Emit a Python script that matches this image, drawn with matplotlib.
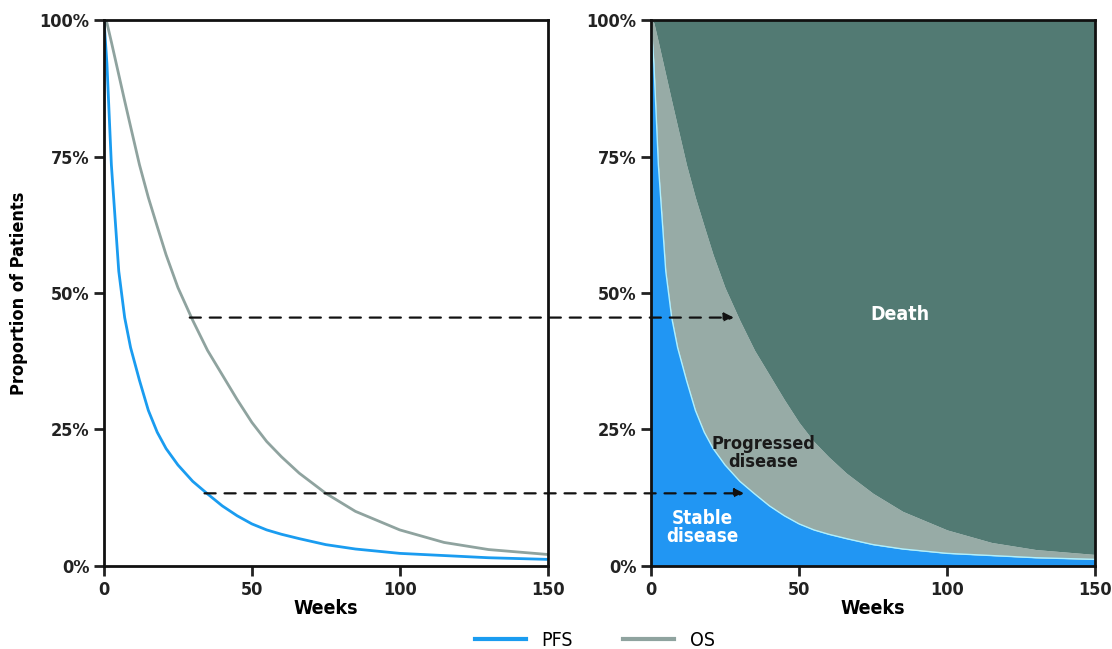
import matplotlib
matplotlib.use('Agg')
import matplotlib.pyplot as plt
from matplotlib.patches import ConnectionPatch
from matplotlib.lines import Line2D

plt.rcParams['font.family'] = ['DejaVu Sans Condensed', 'Liberation Sans Narrow', 'DejaVu Sans']
plt.rcParams['font.stretch'] = 'condensed'

# weeks and % of patients
weeks = [0, 1, 2.5, 5, 7, 9, 12, 15, 18, 21, 25, 30, 35, 40, 45, 50, 55, 60, 66, 75, 85, 100, 115, 130, 150]
pfs_pct = [100, 92, 73.5, 54, 45.5, 40, 34, 28.5, 24.5, 21.5, 18.5, 15.5, 13.2, 11, 9.2, 7.7, 6.6, 5.8, 5.0,
           3.9, 3.1, 2.3, 1.9, 1.5, 1.2]
os_pct = [100, 99.5, 96, 90, 85.2, 80.5, 73.5, 67.5, 62.2, 57, 51, 45, 39.5, 35, 30.5, 26.3, 22.8, 20, 17,
          13.3, 10, 6.6, 4.3, 3, 2.1]

x_ticks = [0, 50, 100, 150]
y_ticks = [0, 25, 50, 75, 100]
y_ticklabels = ['0%', '25%', '50%', '75%', '100%']

# dashed arrows: (start week on left, y %, end week on right)
arrow_os = (29, 45.5, 28)
arrow_pfs = (34, 13.3, 31.5)

PFS_LINE = '#1a9cf0'
OS_LINE = '#8fa39f'
STABLE = '#2196f3'
PROGRESSED = '#97aba6'
DEATH = '#527a73'

fig = plt.figure(figsize=(11.12, 6.49), dpi=100)
ax1 = fig.add_axes([0.0935, 0.128, 0.399, 0.841])
ax2 = fig.add_axes([0.5854, 0.128, 0.3995, 0.841])

# left: survival curves
ax1.plot(weeks, os_pct, color=OS_LINE, lw=2)
ax1.plot(weeks, pfs_pct, color=PFS_LINE, lw=2)

# right: stacked health states
ax2.fill_between(weeks, 0, pfs_pct, color=STABLE, lw=0)
ax2.fill_between(weeks, pfs_pct, os_pct, color=PROGRESSED, lw=0)
ax2.fill_between(weeks, os_pct, 100, color=DEATH, lw=0)
ax2.plot(weeks, pfs_pct, color='#aef0ff', lw=1)

ax2.text(84, 46, 'Death', color='white', fontsize=14, fontweight='bold', ha='center', va='center')
ax2.text(38, 20.7, 'Progressed\ndisease', color='#1a1a1a', fontsize=13, fontweight='bold',
         ha='center', va='center', linespacing=0.95)
ax2.text(17.4, 7, 'Stable\ndisease', color='white', fontsize=13.5, fontweight='bold',
         ha='center', va='center', linespacing=0.95)

for ax in (ax1, ax2):
    ax.set_xlim(0, 150)
    ax.set_ylim(0, 100)
    ax.set_xticks(x_ticks)
    ax.set_yticks(y_ticks)
    ax.set_yticklabels(y_ticklabels)
    ax.tick_params(direction='out', length=7, width=2, labelsize=13, colors='#222222')
    for lab in ax.get_xticklabels() + ax.get_yticklabels():
        lab.set_fontweight('bold')
    for s in ax.spines.values():
        s.set_linewidth(2)
        s.set_color('#111111')
    ax.set_xlabel('Weeks', fontsize=14, fontweight='bold', labelpad=0)

ax1.set_ylabel('Proportion of Patients', fontsize=13, fontweight='bold', labelpad=8)

for x0, y, x1 in (arrow_os, arrow_pfs):
    con = ConnectionPatch(xyA=(x0, y), coordsA=ax1.transData, xyB=(x1, y), coordsB=ax2.transData,
                          arrowstyle='-|>', linestyle=(0, (5, 4)), lw=1.6, color='#111111',
                          mutation_scale=14)
    fig.add_artist(con)

handles = [Line2D([], [], color=PFS_LINE, lw=3), Line2D([], [], color=OS_LINE, lw=3)]
fig.legend(handles, ['PFS', 'OS'], loc='lower center', bbox_to_anchor=(0.535, -0.028), ncol=2,
           frameon=False, fontsize=14, handlelength=2.6, columnspacing=2.6)

fig.savefig('out.png', dpi=100)
